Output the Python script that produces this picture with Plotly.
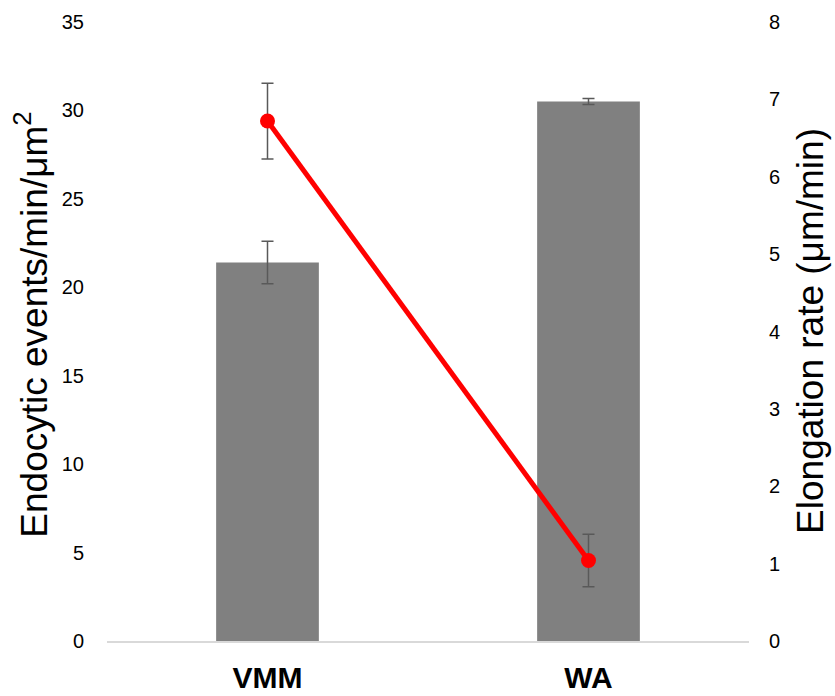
import plotly.graph_objects as go

categories = ["VMM", "WA"]
endocytic_events = [21.4, 30.5]
endocytic_err = [1.2, 0.17]
elongation_rate = [6.72, 1.04]
elongation_err = [0.49, 0.34]

left_ticks = [0, 5, 10, 15, 20, 25, 30, 35]
right_ticks = [0, 1, 2, 3, 4, 5, 6, 7, 8]

FONT = "Liberation Sans, Arial, sans-serif"
ERR_COLOR = "#595959"

fig = go.Figure()
fig.add_trace(go.Bar(
    x=categories, y=endocytic_events,
    marker=dict(color="#808080", line=dict(width=0)),
    error_y=dict(type="data", array=endocytic_err, color=ERR_COLOR, thickness=1.5, width=6),
    yaxis="y", showlegend=False,
))
fig.add_trace(go.Scatter(
    x=categories, y=elongation_rate, mode="lines+markers",
    line=dict(color="#ff0000", width=5),
    marker=dict(color="#ff0000", size=15),
    error_y=dict(type="data", array=elongation_err, color=ERR_COLOR, thickness=1.5, width=6),
    yaxis="y2", showlegend=False,
))

fig.update_layout(
    width=835, height=696, autosize=False,
    margin=dict(l=107, r=86, t=22, b=55, pad=0),
    paper_bgcolor="white", plot_bgcolor="white",
    font=dict(family=FONT, color="black"),
    bargap=0.68,
    xaxis=dict(
        showline=True, linecolor="#d9d9d9", linewidth=1.5, automargin=False,
        showgrid=False, ticks="", ticklabelstandoff=9,
        tickfont=dict(size=30, family=FONT, color="black", weight="bold"),
    ),
    yaxis=dict(
        range=[0, 35], tickvals=left_ticks, showgrid=False, zeroline=False,
        showline=False, ticks="", ticklabelstandoff=22, automargin=False,
        tickfont=dict(size=20, family=FONT, color="black"),
    ),
    yaxis2=dict(
        range=[0, 8], tickvals=right_ticks, overlaying="y", side="right",
        showgrid=False, zeroline=False, showline=False, ticks="",
        ticklabelstandoff=19, automargin=False,
        tickfont=dict(size=20, family=FONT, color="black"),
    ),
    annotations=[
        dict(text="Endocytic events/min/μm<sup>2</sup>", xref="paper", yref="paper",
             x=(32 - 107) / 642, y=0.511, xanchor="center", yanchor="middle",
             textangle=-90, showarrow=False, font=dict(size=37, family=FONT, color="black")),
        dict(text="Elongation rate (μm/min)", xref="paper", yref="paper",
             x=(811 - 107) / 642, y=0.501, xanchor="center", yanchor="middle",
             textangle=-90, showarrow=False, font=dict(size=37, family=FONT, color="black")),
    ],
)

fig.write_html("out.html", post_script="document.body.style.margin='0px';",
               config={"displayModeBar": False})
